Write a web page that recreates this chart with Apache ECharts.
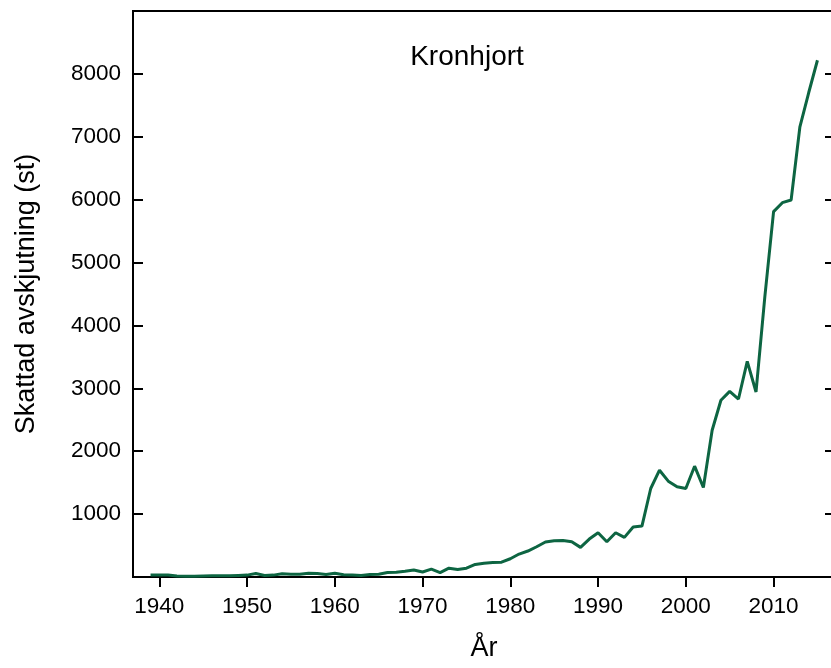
<!DOCTYPE html>
<html>
<head>
<meta charset="utf-8">
<script src="https://cdn.jsdelivr.net/npm/echarts@6/dist/echarts.min.js"></script>
<style>
html, body { margin: 0; padding: 0; background: #fff; }
#chart { width: 831px; height: 668px; }
</style>
</head>
<body>
<div id="chart"></div>
<script>
// 年份与估计射杀数量
let years = [];
for (let y = 1939; y <= 2015; y++) years.push(y);
let harvest = [
	30, 30, 30, 15, 10, 10, 15, 20, 20, 20, // 1939-1948
	25, 30, 55, 25, 30, 50, 45, 45, 60, 55, // 1949-1958
	40, 60, 35, 30, 25, 40, 45, 70, 75, 90, // 1959-1968
	110, 80, 125, 70, 140, 120, 140, 200, 220, 230, // 1969-1978
	235, 290, 365, 413, 481, 556, 577, 580, 561, 471, // 1979-1988
	603, 704, 561, 704, 630, 794, 810, 1407, 1698, 1524, // 1989-1998
	1434, 1407, 1762, 1423, 2333, 2810, 2952, 2830, 3429, 2942, // 1999-2008
	4450, 5810, 5952, 5995, 7159, 7700, 8217, // 2009-2015
];
let x_ticks = [1940, 1950, 1960, 1970, 1980, 1990, 2000, 2010];
let y_ticks = [1000, 2000, 3000, 4000, 5000, 6000, 7000, 8000];

let chart = echarts.init(document.getElementById('chart'));
let font = 'Liberation Sans, Arial, sans-serif';
let series_data = years.map((y, i) => [y, harvest[i]]);

chart.setOption({
	animation: false,
	title: {
		text: 'Kronhjort',
		left: 462,
		top: 38,
		textAlign: 'center',
		textStyle: { fontFamily: font, fontSize: 28, fontWeight: 'normal', color: '#000' },
	},
	grid: {
		left: 133,
		top: 11,
		width: 702,
		height: 566,
		show: true,
		borderColor: '#000',
		borderWidth: 2,
		containLabel: false,
		outerBoundsMode: 'none',
	},
	xAxis: {
		type: 'value',
		min: 1937,
		max: 2017,
		name: 'År',
		nameLocation: 'middle',
		nameGap: 58,
		nameTextStyle: { fontFamily: font, fontSize: 27, color: '#000', verticalAlign: 'top' },
		axisLine: { show: true, lineStyle: { color: '#000', width: 2 } },
		axisTick: { show: true, length: 10, lineStyle: { color: '#000', width: 2 }, customValues: x_ticks },
		axisLabel: { fontFamily: font, fontSize: 22.5, color: '#000', margin: 18, customValues: x_ticks, formatter: (v) => String(v) },
		splitLine: { show: false },
	},
	yAxis: [
		{
			type: 'value',
			min: 0,
			max: 9000,
			position: 'left',
			name: 'Skattad avskjutning (st)',
			nameLocation: 'middle',
			nameGap: 93,
			nameTextStyle: { fontFamily: font, fontSize: 27, color: '#000' },
			axisLine: { show: true, lineStyle: { color: '#000', width: 2 } },
			axisTick: { show: true, inside: true, length: 10, lineStyle: { color: '#000', width: 2 }, customValues: y_ticks },
			axisLabel: { fontFamily: font, fontSize: 22.5, color: '#000', margin: 12, customValues: y_ticks, formatter: (v) => String(v) },
			splitLine: { show: false },
		},
		{
			type: 'value',
			min: 0,
			max: 9000,
			position: 'right',
			axisLine: { show: true, lineStyle: { color: '#000', width: 2 } },
			axisTick: { show: true, inside: true, length: 10, lineStyle: { color: '#000', width: 2 }, customValues: y_ticks },
			axisLabel: { show: false },
			splitLine: { show: false },
		},
	],
	series: [
		{
			type: 'line',
			data: series_data,
			showSymbol: false,
			lineStyle: { color: '#0d6542', width: 3 },
			z: 3,
		},
	],
});
</script>
</body>
</html>
